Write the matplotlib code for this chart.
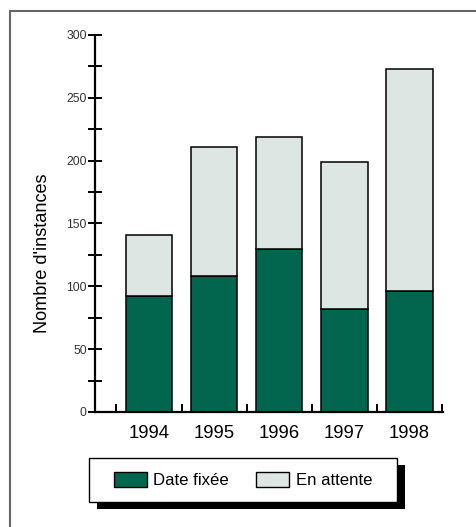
import numpy as np
import matplotlib.pyplot as plt
from matplotlib.patches import Rectangle, Patch

plt.rcParams['font.family'] = ['Liberation Sans', 'DejaVu Sans']

years = ['1994', '1995', '1996', '1997', '1998']
date_fixee = [92, 108, 130, 82, 96]
en_attente = [49, 103, 89, 117, 177]   # stacked on top of date_fixee

green = '#02664f'
pale = '#dde6e3'

W, H = 477, 527
fig = plt.figure(figsize=(W / 100, H / 100), dpi=100)

# grey page border, open on the right and bottom
fig.patches.append(Rectangle((10 / W, -0.1), 1.2, (H - 11) / H + 0.1,
                             transform=fig.transFigure, fill=False,
                             edgecolor='#666666', linewidth=1.5))

ax = fig.add_axes([95 / W, 115 / H, 348 / W, 377 / H])
x = np.arange(len(years))
ax.bar(x, date_fixee, width=0.72, color=green, edgecolor='black', linewidth=1.1)
ax.bar(x, en_attente, width=0.72, bottom=date_fixee, color=pale,
       edgecolor='black', linewidth=1.1)

ax.set_xlim(-0.83, 4.52)
ax.set_ylim(0, 300)
for s in ['top', 'right']:
    ax.spines[s].set_visible(False)
ax.spines['left'].set_linewidth(1.6)
ax.spines['bottom'].set_linewidth(1.6)

ax.set_yticks(np.arange(0, 301, 50))
ax.set_yticks(np.arange(0, 301, 25), minor=True)
ax.tick_params(axis='y', which='both', direction='inout', length=10, width=1.4,
               labelsize=8.8, labelcolor='#333333', pad=1)

ax.set_xticks(x)
ax.set_xticklabels(years)
ax.set_xticks(np.arange(-0.5, 4.6, 1), minor=True)
ax.tick_params(axis='x', which='major', length=0, labelsize=13.3, pad=9)
ax.tick_params(axis='x', which='minor', direction='in', length=6, width=1.4)

ax.set_ylabel("Nombre d'instances", fontsize=13.1)
ax.yaxis.label.set_verticalalignment('center')
ax.yaxis.set_label_coords(-0.152, 0.422)

# legend box with a hard drop shadow
lx0, ly0, lw, lh = 89, 458, 308, 44
fig.patches.append(Rectangle(((lx0 + 8) / W, 1 - (ly0 + lh + 7) / H), lw / W, lh / H,
                             transform=fig.transFigure, facecolor='black',
                             edgecolor='none', zorder=1))
fig.patches.append(Rectangle((lx0 / W, 1 - (ly0 + lh) / H), lw / W, lh / H,
                             transform=fig.transFigure, facecolor='white',
                             edgecolor='black', linewidth=1.0, zorder=2))
handles = [Patch(facecolor=green, edgecolor='black', linewidth=1.0, label='Date fixée'),
           Patch(facecolor=pale, edgecolor='black', linewidth=1.0, label='En attente')]
fig.legend(handles=handles, loc='center', ncol=2, frameon=False,
           bbox_to_anchor=((lx0 + lw / 2) / W, 1 - (ly0 + lh / 2) / H),
           fontsize=12.1, handlelength=1.95, handleheight=1.0,
           handletextpad=0.4, columnspacing=1.6)

fig.savefig('out.png', dpi=100)
